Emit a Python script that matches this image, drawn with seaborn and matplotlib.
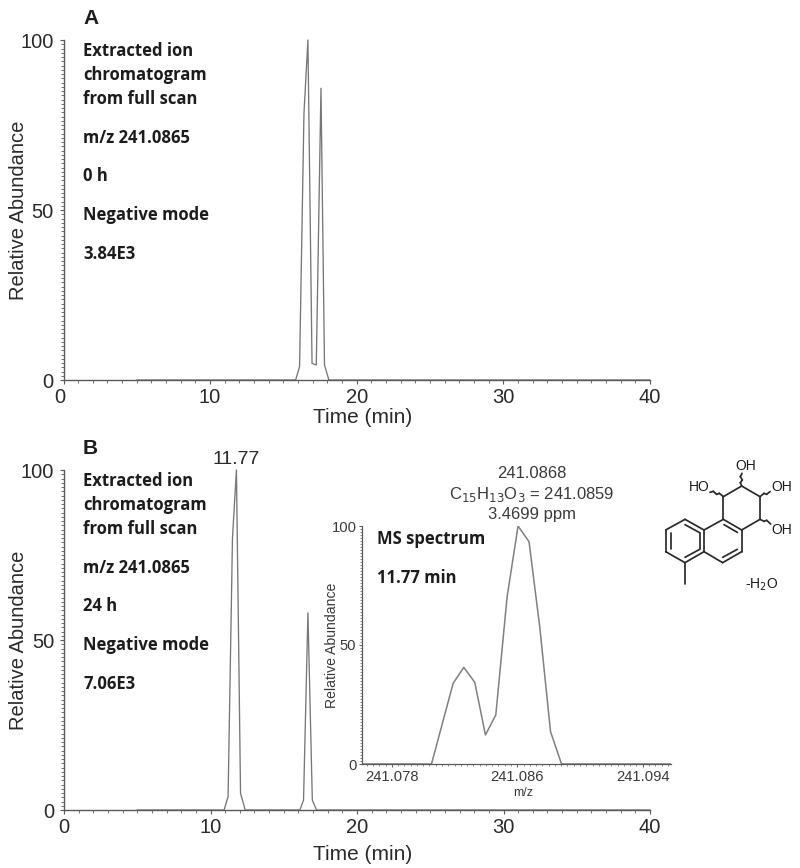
import matplotlib
matplotlib.use("Agg")
import matplotlib.pyplot as plt
from matplotlib.ticker import MultipleLocator, FixedLocator
from matplotlib.lines import Line2D
from matplotlib.transforms import ScaledTranslation
import seaborn as sns
import pandas as pd

# Panel A chromatogram
time_a = [5.0, 15.83, 16.1, 16.4, 16.67, 16.95, 17.24, 17.56, 17.8, 18.1, 40.0]
abund_a = [0, 0, 3.9, 78.4, 100, 4.9, 4.4, 85.8, 4.4, 0, 0]
# Panel B chromatogram
time_b = [5.0, 10.93, 11.2, 11.5, 11.77, 12.05, 12.37, 16.1, 16.35, 16.65, 16.95, 17.24, 40.0]
abund_b = [0, 0, 3.9, 80, 100, 4.9, 0, 0, 2.9, 58, 2.9, 0, 0]
# Inset MS spectrum
mz = [241.0761, 241.08053, 241.08191, 241.08259, 241.08329, 241.08397, 241.08463, 241.08535,
      241.08605, 241.08675, 241.08743, 241.08812, 241.08882, 241.0958]
abund_ms = [0, 0, 33.9, 40.6, 34.3, 12.2, 20.6, 70.2, 100, 93.4, 57.7, 13.6, 0, 0]
mz_ticks = [241.078, 241.086, 241.094]
mz_labels = ["241.078", "241.086", "241.094"]
time_ticks = [0, 10, 20, 30, 40]
abund_ticks = [0, 50, 100]
notes_a = ["Extracted ion", "chromatogram", "from full scan", "m/z 241.0865", "0 h", "Negative mode", "3.84E3"]
notes_b = ["Extracted ion", "chromatogram", "from full scan", "m/z 241.0865", "24 h", "Negative mode", "7.06E3"]

W, H = 800, 868
sns.set_style("ticks")
plt.rcParams["font.family"] = ["Liberation Sans", "DejaVu Sans"]
TXT = "#2a2a2a"
LINE = "#777777"
AX = "#5a5a5a"
fig = plt.figure(figsize=(W / 100, H / 100), dpi=100, facecolor="white")


def axes_px(l, t, r, b):
    return fig.add_axes([l / W, 1 - b / H, (r - l) / W, (b - t) / H], facecolor="none")


def nudge(label, px):
    label.set_transform(label.get_transform() + ScaledTranslation(px / 100, 0, fig.dpi_scale_trans))


def chrom(box, xs, ys, note_lines, label_y, pad):
    ax = axes_px(*box)
    df = pd.DataFrame({"t": xs, "a": ys})
    sns.lineplot(data=df, x="t", y="a", ax=ax, color=LINE, lw=0.95, estimator=None, sort=False, clip_on=False)
    ax.set_xlim(0, 40)
    ax.set_ylim(0, 100)
    ax.xaxis.set_major_locator(FixedLocator(time_ticks))
    ax.xaxis.set_minor_locator(MultipleLocator(1))
    ax.yaxis.set_major_locator(FixedLocator(abund_ticks))
    ax.yaxis.set_minor_locator(MultipleLocator(1.25))
    ax.tick_params(axis="both", which="major", length=3, width=0.8, color=AX, labelsize=14.5, labelcolor=TXT)
    ax.tick_params(axis="x", which="major", pad=pad)
    ax.tick_params(axis="y", which="major", pad=4)
    ax.tick_params(axis="both", which="minor", length=2, width=0.6, color=AX)
    ax.set_xlabel("Time (min)", fontsize=15, color=TXT)
    ax.set_ylabel("Relative Abundance", fontsize=14.5, color=TXT)
    h = box[3] - box[1]
    w = box[2] - box[0]
    ax.xaxis.set_label_coords((363 - box[0]) / w, -label_y / h)
    ax.yaxis.set_label_coords(-(box[0] - 28) / w, 0.5)
    for s in ("top", "right"):
        ax.spines[s].set_visible(False)
    for s in ("left", "bottom"):
        ax.spines[s].set_color(AX)
        ax.spines[s].set_linewidth(1.0)
    top = box[1]
    offs = [10, 34, 58, 97, 135, 174, 213]
    for line, o in zip(note_lines, offs):
        fig.text(83 / W, 1 - (top + o + 1) / H, line, fontsize=12, fontweight="bold", family=["Open Sans"],
                 color="#1c1c1c", va="center", ha="left")
    return ax


ax_a = chrom((63.5, 40, 650, 380), time_a, abund_a, notes_a, 28, 2.5)
ax_b = chrom((64, 470, 650, 810), time_b, abund_b, notes_b, 35, 3)
# the reference's "0" on panel A's time axis sits a little left of its tick
nudge(ax_a.get_xticklabels()[0], -4)

fig.text(83 / W, 1 - 18 / H, "A", fontsize=15, fontweight="bold", color="#1c1c1c", va="center")
fig.text(83 / W, 1 - 448 / H, "B", fontsize=15, fontweight="bold", color="#1c1c1c", va="center")
ax_b.annotate("11.77", (11.77, 100), xytext=(0, 1.5), textcoords="offset points", ha="center", va="bottom",
              fontsize=14, color=TXT)

# Inset
ax_i = axes_px(362, 526, 671, 764)
sns.lineplot(x=mz, y=abund_ms, ax=ax_i, color="#808080", lw=1.1, estimator=None, sort=False)
ax_i.set_xlim(241.0761, 241.0958)
ax_i.set_ylim(0, 100)
ax_i.xaxis.set_major_locator(FixedLocator(mz_ticks))
ax_i.set_xticklabels(mz_labels)
nudge(ax_i.get_xticklabels()[1], -4)
ax_i.xaxis.set_minor_locator(MultipleLocator(0.0004))
ax_i.yaxis.set_major_locator(FixedLocator(abund_ticks))
ax_i.yaxis.set_minor_locator(MultipleLocator(1.25))
ax_i.tick_params(axis="both", which="major", length=2.5, width=0.7, color=AX, labelsize=10.6, labelcolor="#3a3a3a")
ax_i.tick_params(axis="x", which="major", pad=1.5)
ax_i.tick_params(axis="y", which="major", pad=1.5)
ax_i.tick_params(axis="both", which="minor", length=1.5, width=0.5, color=AX)
ax_i.set_xlabel("m/z", fontsize=9, color="#3a3a3a")
ax_i.set_ylabel("Relative Abundance", fontsize=10.1, color="#3a3a3a")
ax_i.xaxis.set_label_coords((523 - 362) / 309, -23 / 238)
ax_i.yaxis.set_label_coords(-(362 - 339) / 309, 0.5)
for s in ("top", "right"):
    ax_i.spines[s].set_visible(False)
for s in ("left", "bottom"):
    ax_i.spines[s].set_color(AX)
    ax_i.spines[s].set_linewidth(0.9)
for txt, y in [("MS spectrum", 539), ("11.77 min", 578)]:
    fig.text(377 / W, 1 - y / H, txt, fontsize=12, fontweight="bold", family=["Open Sans"], color="#1c1c1c", va="center")
for txt, y in [("241.0868", 473), (r"C$_{15}$H$_{13}$O$_{3}$ = 241.0859", 494), ("3.4699 ppm", 515)]:
    fig.text(532 / W, 1 - y / H, txt, fontsize=12, color="#3a3a3a", va="center", ha="center", math_fontfamily="dejavusans")


# Structure drawing, in zoomed-crop coordinates
def sx(v):
    return (660 + v / 3) / W


def sy(v):
    return 1 - (450 + v / 3) / H


bonds = [((75, 208), (17, 240)), ((17, 240), (17, 305)), ((17, 305), (75, 338)), ((75, 338), (132, 305)),
         ((132, 305), (132, 240)), ((132, 240), (75, 208)), ((132, 240), (190, 208)), ((190, 208), (245, 240)),
         ((245, 240), (245, 305)), ((245, 305), (188, 338)), ((188, 338), (132, 305)), ((190, 208), (190, 140)),
         ((190, 140), (245, 108)), ((245, 108), (300, 140)), ((300, 140), (300, 208)), ((300, 208), (245, 240)),
         ((75, 338), (75, 402)),
         ((32, 248), (32, 297)), ((75, 224), (119, 248)), ((75, 322), (119, 298)), ((119, 248), (119, 298)),
         ((192, 224), (232, 247)), ((232, 298), (188, 322)),
         ((190, 140), (178, 130)), ((178, 130), (170, 133)), ((170, 133), (160, 124)), ((160, 124), (150, 127)),
         ((245, 108), (241, 98)), ((241, 98), (247, 90)), ((247, 90), (241, 80)), ((241, 80), (246, 70)),
         ((300, 140), (312, 130)), ((312, 130), (320, 133)), ((320, 133), (330, 125)),
         ((300, 208), (312, 214)), ((312, 214), (320, 211)), ((320, 211), (332, 222))]
for (x0, y0), (x1, y1) in bonds:
    fig.add_artist(Line2D([sx(x0), sx(x1)], [sy(y0), sy(y1)], color="#2a2a2a", lw=1.25, solid_capstyle="round"))
for txt, x, y in [("OH", 257, 48), ("HO", 118, 112), ("OH", 365, 112), ("OH", 365, 240)]:
    fig.text(sx(x), sy(y), txt, fontsize=10, color="#1c1c1c", ha="center", va="center")
fig.text(sx(305), sy(405), r"-H$_{2}$O", fontsize=10, color="#1c1c1c", ha="center", va="center", math_fontfamily="dejavusans")

fig.savefig("out.png", dpi=100, facecolor="white")
